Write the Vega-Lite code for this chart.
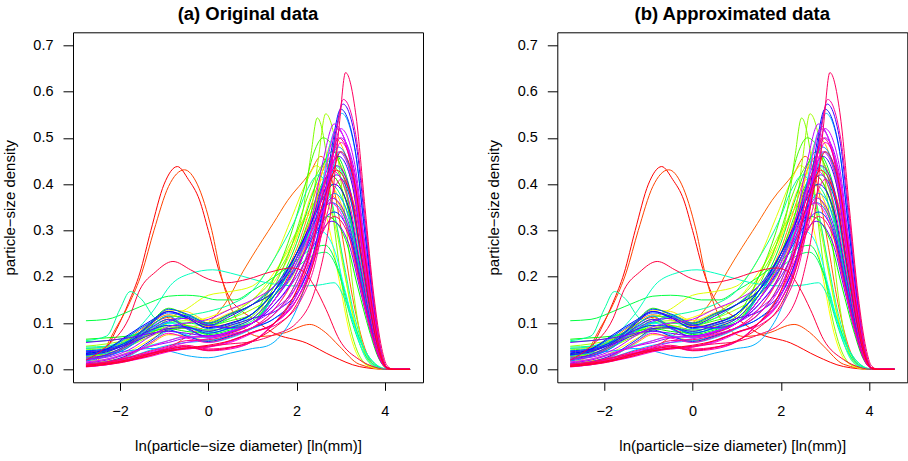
{
"$schema": "https://vega.github.io/schema/vega-lite/v6.json",
"autosize": {"type": "none"},
"padding": {"left": 73, "top": 32.3, "right": 835, "bottom": 429},
"background": "white",
"config": {
  "view": {"stroke": "black", "strokeWidth": 1},
  "font": "Liberation Sans",
  "axis": {"labelFont": "Liberation Sans", "titleFont": "Liberation Sans", "labelColor": "black", "titleColor": "black", "tickColor": "black", "tickWidth": 1, "domain": false, "grid": false, "titleFontWeight": "normal", "labelFlush": false, "labelOverlap": false},
  "title": {"font": "Liberation Sans", "fontSize": 18.5, "fontWeight": "bold", "color": "black"}
},
"datasets": {"curves": [
{"c":0,"x":-2.77,"y":0.006},{"c":0,"x":-2.4,"y":0.03},{"c":0,"x":-2.08,"y":0.086},{"c":0,"x":-1.8,"y":0.145},{"c":0,"x":-1.55,"y":0.208},{"c":0,"x":-1.3,"y":0.3},{"c":0,"x":-1.0,"y":0.4},{"c":0,"x":-0.7,"y":0.438},{"c":0,"x":-0.45,"y":0.41},{"c":0,"x":-0.2,"y":0.366},{"c":0,"x":0,"y":0.3},{"c":0,"x":0.26,"y":0.208},{"c":0,"x":0.48,"y":0.155},{"c":0,"x":0.72,"y":0.129},{"c":0,"x":1.0,"y":0.11},{"c":0,"x":1.47,"y":0.079},{"c":0,"x":2.22,"y":0.057},{"c":0,"x":2.82,"y":0.028},{"c":0,"x":3.42,"y":0.006},{"c":0,"x":4.05,"y":0},{"c":0,"x":4.57,"y":0},
{"c":1,"x":-2.77,"y":0.022},{"c":1,"x":-2.3,"y":0.03},{"c":1,"x":-1.8,"y":0.052},{"c":1,"x":-1.3,"y":0.095},{"c":1,"x":-0.9,"y":0.112},{"c":1,"x":-0.5,"y":0.092},{"c":1,"x":0,"y":0.068},{"c":1,"x":0.5,"y":0.078},{"c":1,"x":1,"y":0.1},{"c":1,"x":1.5,"y":0.15},{"c":1,"x":2.0,"y":0.24},{"c":1,"x":2.35,"y":0.33},{"c":1,"x":2.55,"y":0.39},{"c":1,"x":2.75,"y":0.42},{"c":1,"x":3.14,"y":0.357},{"c":1,"x":3.4,"y":0.231},{"c":1,"x":3.66,"y":0.105},{"c":1,"x":3.86,"y":0.034},{"c":1,"x":4.05,"y":0.003},{"c":1,"x":4.2,"y":0},{"c":1,"x":4.57,"y":0},
{"c":2,"x":-2.77,"y":0.008},{"c":2,"x":-2.4,"y":0.035},{"c":2,"x":-2.15,"y":0.079},{"c":2,"x":-1.8,"y":0.14},{"c":2,"x":-1.5,"y":0.21},{"c":2,"x":-1.23,"y":0.3},{"c":2,"x":-0.9,"y":0.395},{"c":2,"x":-0.54,"y":0.431},{"c":2,"x":-0.25,"y":0.4},{"c":2,"x":0.08,"y":0.3},{"c":2,"x":0.3,"y":0.2},{"c":2,"x":0.55,"y":0.125},{"c":2,"x":0.85,"y":0.085},{"c":2,"x":1.17,"y":0.071},{"c":2,"x":1.7,"y":0.078},{"c":2,"x":2.3,"y":0.097},{"c":2,"x":2.65,"y":0.08},{"c":2,"x":2.97,"y":0.05},{"c":2,"x":3.42,"y":0.011},{"c":2,"x":4.05,"y":0},{"c":2,"x":4.57,"y":0},
{"c":3,"x":-2.77,"y":0.01},{"c":3,"x":-2.3,"y":0.015},{"c":3,"x":-1.8,"y":0.02},{"c":3,"x":-1.3,"y":0.03},{"c":3,"x":-0.9,"y":0.045},{"c":3,"x":-0.5,"y":0.07},{"c":3,"x":0,"y":0.1},{"c":3,"x":0.5,"y":0.16},{"c":3,"x":0.72,"y":0.2},{"c":3,"x":1.0,"y":0.245},{"c":3,"x":1.47,"y":0.315},{"c":3,"x":1.8,"y":0.365},{"c":3,"x":2.3,"y":0.424},{"c":3,"x":2.55,"y":0.46},{"c":3,"x":2.8,"y":0.41},{"c":3,"x":3.05,"y":0.28},{"c":3,"x":3.3,"y":0.14},{"c":3,"x":3.55,"y":0.045},{"c":3,"x":3.8,"y":0.006},{"c":3,"x":4.05,"y":0},{"c":3,"x":4.57,"y":0},
{"c":4,"x":-2.77,"y":0.032},{"c":4,"x":-2.3,"y":0.04},{"c":4,"x":-1.8,"y":0.068},{"c":4,"x":-1.3,"y":0.1},{"c":4,"x":-0.9,"y":0.118},{"c":4,"x":-0.5,"y":0.108},{"c":4,"x":0,"y":0.092},{"c":4,"x":0.5,"y":0.1},{"c":4,"x":1,"y":0.12},{"c":4,"x":1.5,"y":0.17},{"c":4,"x":2.0,"y":0.26},{"c":4,"x":2.35,"y":0.36},{"c":4,"x":2.6,"y":0.43},{"c":4,"x":2.8,"y":0.46},{"c":4,"x":3.18,"y":0.391},{"c":4,"x":3.43,"y":0.253},{"c":4,"x":3.68,"y":0.115},{"c":4,"x":3.86,"y":0.037},{"c":4,"x":4.05,"y":0.003},{"c":4,"x":4.2,"y":0},{"c":4,"x":4.57,"y":0},
{"c":5,"x":-2.77,"y":0.045},{"c":5,"x":-2.3,"y":0.048},{"c":5,"x":-1.8,"y":0.06},{"c":5,"x":-1.3,"y":0.075},{"c":5,"x":-0.9,"y":0.088},{"c":5,"x":-0.5,"y":0.095},{"c":5,"x":0,"y":0.085},{"c":5,"x":0.5,"y":0.092},{"c":5,"x":1,"y":0.11},{"c":5,"x":1.5,"y":0.16},{"c":5,"x":2.0,"y":0.25},{"c":5,"x":2.35,"y":0.33},{"c":5,"x":2.7,"y":0.38},{"c":5,"x":3.11,"y":0.323},{"c":5,"x":3.38,"y":0.209},{"c":5,"x":3.65,"y":0.095},{"c":5,"x":3.85,"y":0.03},{"c":5,"x":4.05,"y":0.002},{"c":5,"x":4.2,"y":0},{"c":5,"x":4.57,"y":0},
{"c":6,"x":-2.77,"y":0.012},{"c":6,"x":-2.3,"y":0.018},{"c":6,"x":-1.8,"y":0.03},{"c":6,"x":-1.3,"y":0.055},{"c":6,"x":-0.9,"y":0.075},{"c":6,"x":-0.5,"y":0.072},{"c":6,"x":0,"y":0.062},{"c":6,"x":0.5,"y":0.07},{"c":6,"x":1,"y":0.09},{"c":6,"x":1.5,"y":0.13},{"c":6,"x":2.0,"y":0.21},{"c":6,"x":2.35,"y":0.32},{"c":6,"x":2.62,"y":0.44},{"c":6,"x":2.85,"y":0.5},{"c":6,"x":3.21,"y":0.425},{"c":6,"x":3.45,"y":0.275},{"c":6,"x":3.69,"y":0.125},{"c":6,"x":3.87,"y":0.04},{"c":6,"x":4.05,"y":0.003},{"c":6,"x":4.2,"y":0},{"c":6,"x":4.57,"y":0},
{"c":7,"x":-2.77,"y":0.038},{"c":7,"x":-2.3,"y":0.042},{"c":7,"x":-1.8,"y":0.062},{"c":7,"x":-1.3,"y":0.098},{"c":7,"x":-0.9,"y":0.128},{"c":7,"x":-0.5,"y":0.125},{"c":7,"x":0,"y":0.105},{"c":7,"x":0.5,"y":0.122},{"c":7,"x":1,"y":0.14},{"c":7,"x":1.5,"y":0.19},{"c":7,"x":1.86,"y":0.25},{"c":7,"x":2.14,"y":0.32},{"c":7,"x":2.37,"y":0.385},{"c":7,"x":2.6,"y":0.41},{"c":7,"x":3.04,"y":0.349},{"c":7,"x":3.33,"y":0.226},{"c":7,"x":3.62,"y":0.103},{"c":7,"x":3.83,"y":0.033},{"c":7,"x":4.05,"y":0.002},{"c":7,"x":4.2,"y":0},{"c":7,"x":4.57,"y":0},
{"c":8,"x":-2.77,"y":0.018},{"c":8,"x":-2.3,"y":0.022},{"c":8,"x":-1.8,"y":0.038},{"c":8,"x":-1.3,"y":0.065},{"c":8,"x":-0.9,"y":0.085},{"c":8,"x":-0.5,"y":0.098},{"c":8,"x":0,"y":0.112},{"c":8,"x":0.5,"y":0.13},{"c":8,"x":1,"y":0.15},{"c":8,"x":1.5,"y":0.21},{"c":8,"x":1.9,"y":0.27},{"c":8,"x":2.25,"y":0.33},{"c":8,"x":2.6,"y":0.35},{"c":8,"x":2.75,"y":0.3},{"c":8,"x":2.97,"y":0.19},{"c":8,"x":3.2,"y":0.08},{"c":8,"x":3.45,"y":0.02},{"c":8,"x":3.8,"y":0.002},{"c":8,"x":4.05,"y":0},{"c":8,"x":4.57,"y":0},
{"c":9,"x":-2.77,"y":0.02},{"c":9,"x":-2.3,"y":0.03},{"c":9,"x":-1.8,"y":0.05},{"c":9,"x":-1.3,"y":0.08},{"c":9,"x":-0.9,"y":0.11},{"c":9,"x":-0.5,"y":0.13},{"c":9,"x":0,"y":0.16},{"c":9,"x":0.5,"y":0.168},{"c":9,"x":1,"y":0.18},{"c":9,"x":1.5,"y":0.24},{"c":9,"x":1.9,"y":0.33},{"c":9,"x":2.2,"y":0.4},{"c":9,"x":2.45,"y":0.44},{"c":9,"x":2.7,"y":0.4},{"c":9,"x":2.95,"y":0.29},{"c":9,"x":3.2,"y":0.15},{"c":9,"x":3.45,"y":0.05},{"c":9,"x":3.7,"y":0.01},{"c":9,"x":4.05,"y":0.001},{"c":9,"x":4.2,"y":0},{"c":9,"x":4.57,"y":0},
{"c":10,"x":-2.77,"y":0.028},{"c":10,"x":-2.3,"y":0.032},{"c":10,"x":-1.8,"y":0.05},{"c":10,"x":-1.3,"y":0.078},{"c":10,"x":-0.9,"y":0.1},{"c":10,"x":-0.5,"y":0.118},{"c":10,"x":0,"y":0.1},{"c":10,"x":0.5,"y":0.092},{"c":10,"x":1,"y":0.1},{"c":10,"x":1.5,"y":0.2},{"c":10,"x":1.9,"y":0.28},{"c":10,"x":2.2,"y":0.33},{"c":10,"x":2.55,"y":0.37},{"c":10,"x":2.85,"y":0.32},{"c":10,"x":3.1,"y":0.2},{"c":10,"x":3.35,"y":0.09},{"c":10,"x":3.6,"y":0.025},{"c":10,"x":3.85,"y":0.003},{"c":10,"x":4.05,"y":0},{"c":10,"x":4.57,"y":0},
{"c":11,"x":-2.77,"y":0.05},{"c":11,"x":-2.3,"y":0.055},{"c":11,"x":-1.8,"y":0.065},{"c":11,"x":-1.3,"y":0.085},{"c":11,"x":-0.9,"y":0.1},{"c":11,"x":-0.5,"y":0.105},{"c":11,"x":0,"y":0.1},{"c":11,"x":0.5,"y":0.11},{"c":11,"x":1,"y":0.13},{"c":11,"x":1.5,"y":0.16},{"c":11,"x":2.0,"y":0.22},{"c":11,"x":2.35,"y":0.35},{"c":11,"x":2.5,"y":0.46},{"c":11,"x":2.66,"y":0.552},{"c":11,"x":2.9,"y":0.48},{"c":11,"x":3.1,"y":0.33},{"c":11,"x":3.3,"y":0.16},{"c":11,"x":3.5,"y":0.05},{"c":11,"x":3.75,"y":0.006},{"c":11,"x":4.05,"y":0},{"c":11,"x":4.57,"y":0},
{"c":12,"x":-2.77,"y":0.03},{"c":12,"x":-2.3,"y":0.035},{"c":12,"x":-1.8,"y":0.05},{"c":12,"x":-1.3,"y":0.072},{"c":12,"x":-0.9,"y":0.085},{"c":12,"x":-0.5,"y":0.09},{"c":12,"x":0,"y":0.1},{"c":12,"x":0.5,"y":0.12},{"c":12,"x":1,"y":0.15},{"c":12,"x":1.5,"y":0.2},{"c":12,"x":1.9,"y":0.27},{"c":12,"x":2.15,"y":0.345},{"c":12,"x":2.32,"y":0.46},{"c":12,"x":2.47,"y":0.543},{"c":12,"x":2.65,"y":0.48},{"c":12,"x":2.81,"y":0.345},{"c":12,"x":3.05,"y":0.17},{"c":12,"x":3.3,"y":0.06},{"c":12,"x":3.6,"y":0.01},{"c":12,"x":4.05,"y":0},{"c":12,"x":4.57,"y":0},
{"c":13,"x":-2.77,"y":0.042},{"c":13,"x":-2.3,"y":0.046},{"c":13,"x":-1.8,"y":0.058},{"c":13,"x":-1.3,"y":0.078},{"c":13,"x":-0.9,"y":0.092},{"c":13,"x":-0.5,"y":0.088},{"c":13,"x":0,"y":0.082},{"c":13,"x":0.5,"y":0.095},{"c":13,"x":1,"y":0.115},{"c":13,"x":1.5,"y":0.18},{"c":13,"x":1.9,"y":0.27},{"c":13,"x":2.2,"y":0.36},{"c":13,"x":2.45,"y":0.42},{"c":13,"x":2.7,"y":0.45},{"c":13,"x":3.11,"y":0.383},{"c":13,"x":3.38,"y":0.248},{"c":13,"x":3.65,"y":0.113},{"c":13,"x":3.85,"y":0.036},{"c":13,"x":4.05,"y":0.002},{"c":13,"x":4.2,"y":0},{"c":13,"x":4.57,"y":0},
{"c":14,"x":-2.77,"y":0.028},{"c":14,"x":-2.3,"y":0.036},{"c":14,"x":-1.8,"y":0.065},{"c":14,"x":-1.3,"y":0.095},{"c":14,"x":-0.9,"y":0.115},{"c":14,"x":-0.5,"y":0.112},{"c":14,"x":0,"y":0.095},{"c":14,"x":0.5,"y":0.105},{"c":14,"x":1,"y":0.12},{"c":14,"x":1.5,"y":0.2},{"c":14,"x":1.9,"y":0.3},{"c":14,"x":2.2,"y":0.4},{"c":14,"x":2.4,"y":0.47},{"c":14,"x":2.6,"y":0.5},{"c":14,"x":3.04,"y":0.425},{"c":14,"x":3.33,"y":0.275},{"c":14,"x":3.62,"y":0.125},{"c":14,"x":3.83,"y":0.04},{"c":14,"x":4.05,"y":0.002},{"c":14,"x":4.2,"y":0},{"c":14,"x":4.57,"y":0},
{"c":15,"x":-2.77,"y":0.033},{"c":15,"x":-2.3,"y":0.04},{"c":15,"x":-1.8,"y":0.058},{"c":15,"x":-1.3,"y":0.102},{"c":15,"x":-0.9,"y":0.132},{"c":15,"x":-0.5,"y":0.118},{"c":15,"x":0,"y":0.098},{"c":15,"x":0.5,"y":0.118},{"c":15,"x":1,"y":0.14},{"c":15,"x":1.5,"y":0.17},{"c":15,"x":2.0,"y":0.25},{"c":15,"x":2.3,"y":0.33},{"c":15,"x":2.52,"y":0.39},{"c":15,"x":2.75,"y":0.42},{"c":15,"x":3.14,"y":0.357},{"c":15,"x":3.4,"y":0.231},{"c":15,"x":3.66,"y":0.105},{"c":15,"x":3.86,"y":0.034},{"c":15,"x":4.05,"y":0.003},{"c":15,"x":4.2,"y":0},{"c":15,"x":4.57,"y":0},
{"c":16,"x":-2.77,"y":0.065},{"c":16,"x":-2.3,"y":0.068},{"c":16,"x":-1.8,"y":0.072},{"c":16,"x":-1.3,"y":0.082},{"c":16,"x":-0.9,"y":0.088},{"c":16,"x":-0.5,"y":0.082},{"c":16,"x":0,"y":0.078},{"c":16,"x":0.5,"y":0.088},{"c":16,"x":1,"y":0.1},{"c":16,"x":1.5,"y":0.16},{"c":16,"x":2.0,"y":0.24},{"c":16,"x":2.35,"y":0.3},{"c":16,"x":2.7,"y":0.33},{"c":16,"x":3.11,"y":0.28},{"c":16,"x":3.38,"y":0.18},{"c":16,"x":3.65,"y":0.083},{"c":16,"x":3.85,"y":0.026},{"c":16,"x":4.05,"y":0.002},{"c":16,"x":4.2,"y":0},{"c":16,"x":4.57,"y":0},
{"c":17,"x":-2.77,"y":0.024},{"c":17,"x":-2.3,"y":0.032},{"c":17,"x":-1.8,"y":0.055},{"c":17,"x":-1.3,"y":0.088},{"c":17,"x":-0.9,"y":0.108},{"c":17,"x":-0.5,"y":0.095},{"c":17,"x":0,"y":0.075},{"c":17,"x":0.5,"y":0.085},{"c":17,"x":1,"y":0.1},{"c":17,"x":1.5,"y":0.17},{"c":17,"x":1.95,"y":0.26},{"c":17,"x":2.3,"y":0.36},{"c":17,"x":2.55,"y":0.43},{"c":17,"x":2.8,"y":0.47},{"c":17,"x":3.18,"y":0.4},{"c":17,"x":3.43,"y":0.259},{"c":17,"x":3.68,"y":0.118},{"c":17,"x":3.86,"y":0.038},{"c":17,"x":4.05,"y":0.003},{"c":17,"x":4.2,"y":0},{"c":17,"x":4.57,"y":0},
{"c":18,"x":-2.77,"y":0.105},{"c":18,"x":-2.3,"y":0.108},{"c":18,"x":-1.8,"y":0.125},{"c":18,"x":-1.3,"y":0.145},{"c":18,"x":-0.9,"y":0.158},{"c":18,"x":-0.5,"y":0.16},{"c":18,"x":-0.2,"y":0.158},{"c":18,"x":0.2,"y":0.15},{"c":18,"x":0.6,"y":0.15},{"c":18,"x":1.0,"y":0.17},{"c":18,"x":1.5,"y":0.2},{"c":18,"x":2.0,"y":0.235},{"c":18,"x":2.3,"y":0.258},{"c":18,"x":2.65,"y":0.268},{"c":18,"x":3.0,"y":0.2},{"c":18,"x":3.2,"y":0.13},{"c":18,"x":3.5,"y":0.05},{"c":18,"x":3.8,"y":0.01},{"c":18,"x":4.05,"y":0},{"c":18,"x":4.57,"y":0},
{"c":19,"x":-2.77,"y":0.06},{"c":19,"x":-2.3,"y":0.062},{"c":19,"x":-1.8,"y":0.07},{"c":19,"x":-1.3,"y":0.09},{"c":19,"x":-0.9,"y":0.1},{"c":19,"x":-0.5,"y":0.1},{"c":19,"x":0,"y":0.095},{"c":19,"x":0.5,"y":0.11},{"c":19,"x":1,"y":0.14},{"c":19,"x":1.5,"y":0.18},{"c":19,"x":2.0,"y":0.22},{"c":19,"x":2.35,"y":0.245},{"c":19,"x":2.65,"y":0.253},{"c":19,"x":2.95,"y":0.21},{"c":19,"x":3.2,"y":0.12},{"c":19,"x":3.5,"y":0.04},{"c":19,"x":3.8,"y":0.008},{"c":19,"x":4.05,"y":0},{"c":19,"x":4.57,"y":0},
{"c":20,"x":-2.77,"y":0.048},{"c":20,"x":-2.3,"y":0.05},{"c":20,"x":-1.8,"y":0.062},{"c":20,"x":-1.3,"y":0.082},{"c":20,"x":-0.9,"y":0.095},{"c":20,"x":-0.5,"y":0.092},{"c":20,"x":0,"y":0.085},{"c":20,"x":0.5,"y":0.09},{"c":20,"x":1,"y":0.105},{"c":20,"x":1.5,"y":0.16},{"c":20,"x":2.0,"y":0.24},{"c":20,"x":2.3,"y":0.31},{"c":20,"x":2.52,"y":0.36},{"c":20,"x":2.75,"y":0.4},{"c":20,"x":3.14,"y":0.34},{"c":20,"x":3.4,"y":0.22},{"c":20,"x":3.66,"y":0.1},{"c":20,"x":3.86,"y":0.032},{"c":20,"x":4.05,"y":0.002},{"c":20,"x":4.2,"y":0},{"c":20,"x":4.57,"y":0},
{"c":21,"x":-2.77,"y":0.062},{"c":21,"x":-2.3,"y":0.072},{"c":21,"x":-2.0,"y":0.13},{"c":21,"x":-1.77,"y":0.168},{"c":21,"x":-1.5,"y":0.15},{"c":21,"x":-1.2,"y":0.11},{"c":21,"x":-0.9,"y":0.1},{"c":21,"x":-0.5,"y":0.115},{"c":21,"x":0,"y":0.125},{"c":21,"x":0.5,"y":0.14},{"c":21,"x":1,"y":0.17},{"c":21,"x":1.5,"y":0.24},{"c":21,"x":2.0,"y":0.33},{"c":21,"x":2.25,"y":0.39},{"c":21,"x":2.5,"y":0.42},{"c":21,"x":2.8,"y":0.36},{"c":21,"x":3.05,"y":0.24},{"c":21,"x":3.3,"y":0.12},{"c":21,"x":3.55,"y":0.04},{"c":21,"x":3.8,"y":0.006},{"c":21,"x":4.05,"y":0},{"c":21,"x":4.57,"y":0},
{"c":22,"x":-2.77,"y":0.045},{"c":22,"x":-2.3,"y":0.05},{"c":22,"x":-1.8,"y":0.07},{"c":22,"x":-1.3,"y":0.12},{"c":22,"x":-0.8,"y":0.187},{"c":22,"x":-0.4,"y":0.207},{"c":22,"x":0.1,"y":0.215},{"c":22,"x":0.5,"y":0.208},{"c":22,"x":1.0,"y":0.195},{"c":22,"x":1.32,"y":0.187},{"c":22,"x":2.07,"y":0.18},{"c":22,"x":2.5,"y":0.182},{"c":22,"x":2.85,"y":0.187},{"c":22,"x":3.1,"y":0.15},{"c":22,"x":3.4,"y":0.07},{"c":22,"x":3.7,"y":0.02},{"c":22,"x":4.05,"y":0.001},{"c":22,"x":4.57,"y":0},
{"c":23,"x":-2.77,"y":0.016},{"c":23,"x":-2.3,"y":0.022},{"c":23,"x":-1.8,"y":0.036},{"c":23,"x":-1.3,"y":0.052},{"c":23,"x":-0.9,"y":0.062},{"c":23,"x":-0.5,"y":0.072},{"c":23,"x":0,"y":0.068},{"c":23,"x":0.5,"y":0.082},{"c":23,"x":1,"y":0.1},{"c":23,"x":1.5,"y":0.15},{"c":23,"x":2.0,"y":0.23},{"c":23,"x":2.35,"y":0.31},{"c":23,"x":2.6,"y":0.39},{"c":23,"x":2.85,"y":0.44},{"c":23,"x":3.21,"y":0.374},{"c":23,"x":3.45,"y":0.242},{"c":23,"x":3.69,"y":0.11},{"c":23,"x":3.87,"y":0.035},{"c":23,"x":4.05,"y":0.003},{"c":23,"x":4.2,"y":0},{"c":23,"x":4.57,"y":0},
{"c":24,"x":-2.77,"y":0.04},{"c":24,"x":-2.3,"y":0.045},{"c":24,"x":-1.8,"y":0.06},{"c":24,"x":-1.3,"y":0.09},{"c":24,"x":-0.9,"y":0.1},{"c":24,"x":-0.5,"y":0.09},{"c":24,"x":0,"y":0.08},{"c":24,"x":0.5,"y":0.09},{"c":24,"x":1,"y":0.12},{"c":24,"x":1.5,"y":0.17},{"c":24,"x":2.0,"y":0.24},{"c":24,"x":2.3,"y":0.28},{"c":24,"x":2.55,"y":0.298},{"c":24,"x":2.85,"y":0.26},{"c":24,"x":3.1,"y":0.17},{"c":24,"x":3.35,"y":0.08},{"c":24,"x":3.6,"y":0.02},{"c":24,"x":3.9,"y":0.002},{"c":24,"x":4.05,"y":0},{"c":24,"x":4.57,"y":0},
{"c":25,"x":-2.77,"y":0.009},{"c":25,"x":-2.3,"y":0.014},{"c":25,"x":-1.8,"y":0.028},{"c":25,"x":-1.3,"y":0.058},{"c":25,"x":-0.9,"y":0.082},{"c":25,"x":-0.5,"y":0.075},{"c":25,"x":0,"y":0.058},{"c":25,"x":0.5,"y":0.068},{"c":25,"x":1,"y":0.088},{"c":25,"x":1.5,"y":0.12},{"c":25,"x":2.0,"y":0.19},{"c":25,"x":2.3,"y":0.27},{"c":25,"x":2.55,"y":0.38},{"c":25,"x":2.72,"y":0.47},{"c":25,"x":2.9,"y":0.52},{"c":25,"x":3.25,"y":0.442},{"c":25,"x":3.48,"y":0.286},{"c":25,"x":3.71,"y":0.13},{"c":25,"x":3.88,"y":0.042},{"c":25,"x":4.05,"y":0.003},{"c":25,"x":4.2,"y":0},{"c":25,"x":4.57,"y":0},
{"c":26,"x":-2.77,"y":0.012},{"c":26,"x":-2.3,"y":0.016},{"c":26,"x":-1.8,"y":0.026},{"c":26,"x":-1.3,"y":0.042},{"c":26,"x":-0.9,"y":0.052},{"c":26,"x":-0.5,"y":0.058},{"c":26,"x":0,"y":0.062},{"c":26,"x":0.5,"y":0.072},{"c":26,"x":1,"y":0.088},{"c":26,"x":1.5,"y":0.11},{"c":26,"x":2.0,"y":0.15},{"c":26,"x":2.35,"y":0.23},{"c":26,"x":2.6,"y":0.33},{"c":26,"x":2.82,"y":0.47},{"c":26,"x":3.02,"y":0.553},{"c":26,"x":3.33,"y":0.47},{"c":26,"x":3.54,"y":0.304},{"c":26,"x":3.74,"y":0.138},{"c":26,"x":3.9,"y":0.044},{"c":26,"x":4.05,"y":0.004},{"c":26,"x":4.2,"y":0},{"c":26,"x":4.57,"y":0},
{"c":26.5,"x":-2.77,"y":0.03},{"c":26.5,"x":-2.3,"y":0.035},{"c":26.5,"x":-1.8,"y":0.04},{"c":26.5,"x":-1.3,"y":0.045},{"c":26.5,"x":-0.9,"y":0.04},{"c":26.5,"x":-0.5,"y":0.03},{"c":26.5,"x":0,"y":0.025},{"c":26.5,"x":0.5,"y":0.035},{"c":26.5,"x":1,"y":0.045},{"c":26.5,"x":1.32,"y":0.05},{"c":26.5,"x":1.7,"y":0.08},{"c":26.5,"x":2.0,"y":0.13},{"c":26.5,"x":2.4,"y":0.25},{"c":26.5,"x":2.7,"y":0.38},{"c":26.5,"x":2.98,"y":0.47},{"c":26.5,"x":3.3,"y":0.4},{"c":26.5,"x":3.52,"y":0.26},{"c":26.5,"x":3.73,"y":0.118},{"c":26.5,"x":3.89,"y":0.038},{"c":26.5,"x":4.05,"y":0.003},{"c":26.5,"x":4.2,"y":0},{"c":26.5,"x":4.57,"y":0},
{"c":27,"x":-2.77,"y":0.022},{"c":27,"x":-2.3,"y":0.028},{"c":27,"x":-1.8,"y":0.048},{"c":27,"x":-1.3,"y":0.082},{"c":27,"x":-0.9,"y":0.102},{"c":27,"x":-0.5,"y":0.115},{"c":27,"x":0,"y":0.098},{"c":27,"x":0.5,"y":0.088},{"c":27,"x":1,"y":0.1},{"c":27,"x":1.5,"y":0.16},{"c":27,"x":2.0,"y":0.24},{"c":27,"x":2.35,"y":0.31},{"c":27,"x":2.6,"y":0.35},{"c":27,"x":2.85,"y":0.38},{"c":27,"x":3.21,"y":0.323},{"c":27,"x":3.45,"y":0.209},{"c":27,"x":3.69,"y":0.095},{"c":27,"x":3.87,"y":0.03},{"c":27,"x":4.05,"y":0.002},{"c":27,"x":4.2,"y":0},{"c":27,"x":4.57,"y":0},
{"c":28,"x":-2.77,"y":0.018},{"c":28,"x":-2.3,"y":0.028},{"c":28,"x":-1.8,"y":0.048},{"c":28,"x":-1.3,"y":0.092},{"c":28,"x":-0.9,"y":0.115},{"c":28,"x":-0.5,"y":0.088},{"c":28,"x":0,"y":0.072},{"c":28,"x":0.5,"y":0.082},{"c":28,"x":1,"y":0.1},{"c":28,"x":1.5,"y":0.15},{"c":28,"x":2.0,"y":0.23},{"c":28,"x":2.35,"y":0.32},{"c":28,"x":2.65,"y":0.42},{"c":28,"x":2.95,"y":0.48},{"c":28,"x":3.28,"y":0.408},{"c":28,"x":3.5,"y":0.264},{"c":28,"x":3.72,"y":0.12},{"c":28,"x":3.89,"y":0.038},{"c":28,"x":4.05,"y":0.003},{"c":28,"x":4.2,"y":0},{"c":28,"x":4.57,"y":0},
{"c":29,"x":-2.77,"y":0.03},{"c":29,"x":-2.3,"y":0.042},{"c":29,"x":-1.8,"y":0.072},{"c":29,"x":-1.3,"y":0.102},{"c":29,"x":-0.9,"y":0.122},{"c":29,"x":-0.5,"y":0.112},{"c":29,"x":0,"y":0.088},{"c":29,"x":0.5,"y":0.098},{"c":29,"x":1,"y":0.12},{"c":29,"x":1.5,"y":0.17},{"c":29,"x":2.0,"y":0.25},{"c":29,"x":2.35,"y":0.31},{"c":29,"x":2.8,"y":0.36},{"c":29,"x":3.18,"y":0.306},{"c":29,"x":3.43,"y":0.198},{"c":29,"x":3.68,"y":0.09},{"c":29,"x":3.86,"y":0.029},{"c":29,"x":4.05,"y":0.002},{"c":29,"x":4.2,"y":0},{"c":29,"x":4.57,"y":0},
{"c":30,"x":-2.77,"y":0.036},{"c":30,"x":-2.3,"y":0.04},{"c":30,"x":-1.8,"y":0.062},{"c":30,"x":-1.3,"y":0.1},{"c":30,"x":-0.9,"y":0.13},{"c":30,"x":-0.5,"y":0.12},{"c":30,"x":0,"y":0.1},{"c":30,"x":0.5,"y":0.12},{"c":30,"x":1,"y":0.14},{"c":30,"x":1.5,"y":0.18},{"c":30,"x":2.0,"y":0.25},{"c":30,"x":2.35,"y":0.32},{"c":30,"x":2.65,"y":0.39},{"c":30,"x":2.9,"y":0.42},{"c":30,"x":3.25,"y":0.357},{"c":30,"x":3.48,"y":0.231},{"c":30,"x":3.71,"y":0.105},{"c":30,"x":3.88,"y":0.034},{"c":30,"x":4.05,"y":0.003},{"c":30,"x":4.2,"y":0},{"c":30,"x":4.57,"y":0},
{"c":30.5,"x":-2.77,"y":0.04},{"c":30.5,"x":-2.3,"y":0.044},{"c":30.5,"x":-1.8,"y":0.06},{"c":30.5,"x":-1.3,"y":0.085},{"c":30.5,"x":-0.9,"y":0.095},{"c":30.5,"x":-0.5,"y":0.092},{"c":30.5,"x":0,"y":0.078},{"c":30.5,"x":0.5,"y":0.09},{"c":30.5,"x":1,"y":0.11},{"c":30.5,"x":1.5,"y":0.16},{"c":30.5,"x":2.0,"y":0.22},{"c":30.5,"x":2.4,"y":0.29},{"c":30.5,"x":2.85,"y":0.34},{"c":30.5,"x":3.21,"y":0.289},{"c":30.5,"x":3.45,"y":0.187},{"c":30.5,"x":3.69,"y":0.085},{"c":30.5,"x":3.87,"y":0.027},{"c":30.5,"x":4.05,"y":0.002},{"c":30.5,"x":4.2,"y":0},{"c":30.5,"x":4.57,"y":0},
{"c":31,"x":-2.77,"y":0.011},{"c":31,"x":-2.3,"y":0.016},{"c":31,"x":-1.8,"y":0.032},{"c":31,"x":-1.3,"y":0.062},{"c":31,"x":-0.9,"y":0.085},{"c":31,"x":-0.5,"y":0.072},{"c":31,"x":0,"y":0.06},{"c":31,"x":0.5,"y":0.072},{"c":31,"x":1,"y":0.09},{"c":31,"x":1.5,"y":0.11},{"c":31,"x":2.0,"y":0.16},{"c":31,"x":2.35,"y":0.24},{"c":31,"x":2.6,"y":0.35},{"c":31,"x":2.8,"y":0.48},{"c":31,"x":3.0,"y":0.562},{"c":31,"x":3.32,"y":0.478},{"c":31,"x":3.53,"y":0.309},{"c":31,"x":3.74,"y":0.141},{"c":31,"x":3.89,"y":0.045},{"c":31,"x":4.05,"y":0.004},{"c":31,"x":4.2,"y":0},{"c":31,"x":4.57,"y":0},
{"c":32,"x":-2.77,"y":0.034},{"c":32,"x":-2.3,"y":0.044},{"c":32,"x":-1.8,"y":0.075},{"c":32,"x":-1.3,"y":0.105},{"c":32,"x":-0.9,"y":0.125},{"c":32,"x":-0.5,"y":0.112},{"c":32,"x":0,"y":0.09},{"c":32,"x":0.5,"y":0.1},{"c":32,"x":1,"y":0.12},{"c":32,"x":1.5,"y":0.17},{"c":32,"x":2.0,"y":0.25},{"c":32,"x":2.35,"y":0.32},{"c":32,"x":2.6,"y":0.37},{"c":32,"x":2.85,"y":0.4},{"c":32,"x":3.21,"y":0.34},{"c":32,"x":3.45,"y":0.22},{"c":32,"x":3.69,"y":0.1},{"c":32,"x":3.87,"y":0.032},{"c":32,"x":4.05,"y":0.002},{"c":32,"x":4.2,"y":0},{"c":32,"x":4.57,"y":0},
{"c":33,"x":-2.77,"y":0.032},{"c":33,"x":-2.3,"y":0.038},{"c":33,"x":-1.8,"y":0.058},{"c":33,"x":-1.3,"y":0.098},{"c":33,"x":-0.9,"y":0.125},{"c":33,"x":-0.5,"y":0.115},{"c":33,"x":0,"y":0.095},{"c":33,"x":0.5,"y":0.115},{"c":33,"x":1,"y":0.14},{"c":33,"x":1.5,"y":0.17},{"c":33,"x":2.0,"y":0.24},{"c":33,"x":2.35,"y":0.32},{"c":33,"x":2.65,"y":0.41},{"c":33,"x":2.95,"y":0.46},{"c":33,"x":3.28,"y":0.391},{"c":33,"x":3.5,"y":0.253},{"c":33,"x":3.72,"y":0.115},{"c":33,"x":3.89,"y":0.037},{"c":33,"x":4.05,"y":0.003},{"c":33,"x":4.2,"y":0},{"c":33,"x":4.57,"y":0},
{"c":34,"x":-2.77,"y":0.038},{"c":34,"x":-2.3,"y":0.042},{"c":34,"x":-1.8,"y":0.055},{"c":34,"x":-1.3,"y":0.075},{"c":34,"x":-0.9,"y":0.088},{"c":34,"x":-0.5,"y":0.09},{"c":34,"x":0,"y":0.082},{"c":34,"x":0.5,"y":0.095},{"c":34,"x":1,"y":0.11},{"c":34,"x":1.6,"y":0.13},{"c":34,"x":2.1,"y":0.18},{"c":34,"x":2.45,"y":0.27},{"c":34,"x":2.7,"y":0.39},{"c":34,"x":2.88,"y":0.51},{"c":34,"x":3.05,"y":0.573},{"c":34,"x":3.35,"y":0.487},{"c":34,"x":3.55,"y":0.315},{"c":34,"x":3.75,"y":0.143},{"c":34,"x":3.9,"y":0.046},{"c":34,"x":4.05,"y":0.004},{"c":34,"x":4.2,"y":0},{"c":34,"x":4.57,"y":0},
{"c":35,"x":-2.77,"y":0.02},{"c":35,"x":-2.3,"y":0.032},{"c":35,"x":-1.8,"y":0.055},{"c":35,"x":-1.3,"y":0.09},{"c":35,"x":-0.9,"y":0.108},{"c":35,"x":-0.5,"y":0.09},{"c":35,"x":0,"y":0.07},{"c":35,"x":0.5,"y":0.08},{"c":35,"x":1,"y":0.1},{"c":35,"x":1.5,"y":0.14},{"c":35,"x":2.0,"y":0.21},{"c":35,"x":2.35,"y":0.3},{"c":35,"x":2.65,"y":0.39},{"c":35,"x":2.9,"y":0.44},{"c":35,"x":3.25,"y":0.374},{"c":35,"x":3.48,"y":0.242},{"c":35,"x":3.71,"y":0.11},{"c":35,"x":3.88,"y":0.035},{"c":35,"x":4.05,"y":0.003},{"c":35,"x":4.2,"y":0},{"c":35,"x":4.57,"y":0},
{"c":35.5,"x":-2.77,"y":0.058},{"c":35.5,"x":-2.3,"y":0.062},{"c":35.5,"x":-1.8,"y":0.068},{"c":35.5,"x":-1.3,"y":0.078},{"c":35.5,"x":-0.9,"y":0.082},{"c":35.5,"x":-0.5,"y":0.078},{"c":35.5,"x":0,"y":0.072},{"c":35.5,"x":0.5,"y":0.082},{"c":35.5,"x":1,"y":0.1},{"c":35.5,"x":1.5,"y":0.14},{"c":35.5,"x":2.0,"y":0.2},{"c":35.5,"x":2.4,"y":0.27},{"c":35.5,"x":2.8,"y":0.32},{"c":35.5,"x":3.18,"y":0.272},{"c":35.5,"x":3.43,"y":0.176},{"c":35.5,"x":3.68,"y":0.08},{"c":35.5,"x":3.86,"y":0.026},{"c":35.5,"x":4.05,"y":0.002},{"c":35.5,"x":4.2,"y":0},{"c":35.5,"x":4.57,"y":0},
{"c":36,"x":-2.77,"y":0.026},{"c":36,"x":-2.3,"y":0.03},{"c":36,"x":-1.8,"y":0.052},{"c":36,"x":-1.3,"y":0.085},{"c":36,"x":-0.9,"y":0.105},{"c":36,"x":-0.5,"y":0.11},{"c":36,"x":0,"y":0.095},{"c":36,"x":0.5,"y":0.09},{"c":36,"x":1,"y":0.1},{"c":36,"x":1.5,"y":0.15},{"c":36,"x":2.0,"y":0.22},{"c":36,"x":2.35,"y":0.29},{"c":36,"x":2.55,"y":0.33},{"c":36,"x":2.8,"y":0.37},{"c":36,"x":3.18,"y":0.315},{"c":36,"x":3.43,"y":0.204},{"c":36,"x":3.68,"y":0.093},{"c":36,"x":3.86,"y":0.03},{"c":36,"x":4.05,"y":0.002},{"c":36,"x":4.2,"y":0},{"c":36,"x":4.57,"y":0},
{"c":37,"x":-2.77,"y":0.014},{"c":37,"x":-2.3,"y":0.02},{"c":37,"x":-1.8,"y":0.034},{"c":37,"x":-1.3,"y":0.05},{"c":37,"x":-0.9,"y":0.058},{"c":37,"x":-0.5,"y":0.068},{"c":37,"x":0,"y":0.072},{"c":37,"x":0.5,"y":0.08},{"c":37,"x":1,"y":0.1},{"c":37,"x":1.5,"y":0.13},{"c":37,"x":2.0,"y":0.18},{"c":37,"x":2.35,"y":0.26},{"c":37,"x":2.65,"y":0.38},{"c":37,"x":2.82,"y":0.46},{"c":37,"x":3.0,"y":0.5},{"c":37,"x":3.32,"y":0.425},{"c":37,"x":3.53,"y":0.275},{"c":37,"x":3.74,"y":0.125},{"c":37,"x":3.89,"y":0.04},{"c":37,"x":4.05,"y":0.003},{"c":37,"x":4.2,"y":0},{"c":37,"x":4.57,"y":0},
{"c":38,"x":-2.77,"y":0.022},{"c":38,"x":-2.3,"y":0.026},{"c":38,"x":-1.8,"y":0.042},{"c":38,"x":-1.3,"y":0.072},{"c":38,"x":-0.9,"y":0.092},{"c":38,"x":-0.5,"y":0.1},{"c":38,"x":0,"y":0.108},{"c":38,"x":0.5,"y":0.13},{"c":38,"x":1,"y":0.15},{"c":38,"x":1.5,"y":0.18},{"c":38,"x":2.0,"y":0.24},{"c":38,"x":2.35,"y":0.33},{"c":38,"x":2.6,"y":0.45},{"c":38,"x":2.85,"y":0.53},{"c":38,"x":3.21,"y":0.45},{"c":38,"x":3.45,"y":0.292},{"c":38,"x":3.69,"y":0.133},{"c":38,"x":3.87,"y":0.042},{"c":38,"x":4.05,"y":0.003},{"c":38,"x":4.2,"y":0},{"c":38,"x":4.57,"y":0},
{"c":38.5,"x":-2.77,"y":0.006},{"c":38.5,"x":-2.3,"y":0.01},{"c":38.5,"x":-1.8,"y":0.02},{"c":38.5,"x":-1.3,"y":0.032},{"c":38.5,"x":-0.9,"y":0.042},{"c":38.5,"x":-0.5,"y":0.046},{"c":38.5,"x":0,"y":0.05},{"c":38.5,"x":0.5,"y":0.06},{"c":38.5,"x":1,"y":0.08},{"c":38.5,"x":1.5,"y":0.1},{"c":38.5,"x":2.0,"y":0.15},{"c":38.5,"x":2.35,"y":0.23},{"c":38.5,"x":2.62,"y":0.34},{"c":38.5,"x":2.82,"y":0.46},{"c":38.5,"x":3.0,"y":0.52},{"c":38.5,"x":3.32,"y":0.442},{"c":38.5,"x":3.53,"y":0.286},{"c":38.5,"x":3.74,"y":0.13},{"c":38.5,"x":3.89,"y":0.042},{"c":38.5,"x":4.05,"y":0.003},{"c":38.5,"x":4.2,"y":0},{"c":38.5,"x":4.57,"y":0},
{"c":39,"x":-2.77,"y":0.01},{"c":39,"x":-2.3,"y":0.014},{"c":39,"x":-1.8,"y":0.024},{"c":39,"x":-1.3,"y":0.038},{"c":39,"x":-0.9,"y":0.048},{"c":39,"x":-0.5,"y":0.058},{"c":39,"x":0,"y":0.066},{"c":39,"x":0.5,"y":0.076},{"c":39,"x":1,"y":0.09},{"c":39,"x":1.5,"y":0.12},{"c":39,"x":2.0,"y":0.18},{"c":39,"x":2.35,"y":0.27},{"c":39,"x":2.62,"y":0.37},{"c":39,"x":2.8,"y":0.44},{"c":39,"x":2.95,"y":0.47},{"c":39,"x":3.28,"y":0.4},{"c":39,"x":3.5,"y":0.259},{"c":39,"x":3.72,"y":0.118},{"c":39,"x":3.89,"y":0.038},{"c":39,"x":4.05,"y":0.003},{"c":39,"x":4.2,"y":0},{"c":39,"x":4.57,"y":0},
{"c":40,"x":-2.77,"y":0.008},{"c":40,"x":-2.3,"y":0.012},{"c":40,"x":-1.8,"y":0.02},{"c":40,"x":-1.3,"y":0.035},{"c":40,"x":-0.9,"y":0.045},{"c":40,"x":-0.5,"y":0.05},{"c":40,"x":0,"y":0.042},{"c":40,"x":0.5,"y":0.046},{"c":40,"x":1,"y":0.06},{"c":40,"x":1.5,"y":0.1},{"c":40,"x":2.0,"y":0.16},{"c":40,"x":2.32,"y":0.25},{"c":40,"x":2.56,"y":0.37},{"c":40,"x":2.74,"y":0.47},{"c":40,"x":2.9,"y":0.52},{"c":40,"x":3.25,"y":0.442},{"c":40,"x":3.48,"y":0.286},{"c":40,"x":3.71,"y":0.13},{"c":40,"x":3.88,"y":0.042},{"c":40,"x":4.05,"y":0.003},{"c":40,"x":4.2,"y":0},{"c":40,"x":4.57,"y":0},
{"c":40.5,"x":-2.77,"y":0.016},{"c":40.5,"x":-2.3,"y":0.022},{"c":40.5,"x":-1.8,"y":0.036},{"c":40.5,"x":-1.3,"y":0.05},{"c":40.5,"x":-0.9,"y":0.062},{"c":40.5,"x":-0.5,"y":0.07},{"c":40.5,"x":0,"y":0.07},{"c":40.5,"x":0.5,"y":0.082},{"c":40.5,"x":1,"y":0.1},{"c":40.5,"x":1.5,"y":0.15},{"c":40.5,"x":2.0,"y":0.23},{"c":40.5,"x":2.3,"y":0.29},{"c":40.5,"x":2.52,"y":0.33},{"c":40.5,"x":2.75,"y":0.36},{"c":40.5,"x":3.14,"y":0.306},{"c":40.5,"x":3.4,"y":0.198},{"c":40.5,"x":3.66,"y":0.09},{"c":40.5,"x":3.86,"y":0.029},{"c":40.5,"x":4.05,"y":0.002},{"c":40.5,"x":4.2,"y":0},{"c":40.5,"x":4.57,"y":0},
{"c":41,"x":-2.77,"y":0.005},{"c":41,"x":-2.3,"y":0.01},{"c":41,"x":-1.8,"y":0.018},{"c":41,"x":-1.3,"y":0.028},{"c":41,"x":-0.9,"y":0.038},{"c":41,"x":-0.5,"y":0.044},{"c":41,"x":0,"y":0.048},{"c":41,"x":0.5,"y":0.058},{"c":41,"x":1,"y":0.078},{"c":41,"x":1.5,"y":0.1},{"c":41,"x":2.0,"y":0.15},{"c":41,"x":2.35,"y":0.23},{"c":41,"x":2.62,"y":0.34},{"c":41,"x":2.82,"y":0.44},{"c":41,"x":3.0,"y":0.49},{"c":41,"x":3.32,"y":0.417},{"c":41,"x":3.53,"y":0.27},{"c":41,"x":3.74,"y":0.123},{"c":41,"x":3.89,"y":0.039},{"c":41,"x":4.05,"y":0.003},{"c":41,"x":4.2,"y":0},{"c":41,"x":4.57,"y":0},
{"c":42,"x":-2.77,"y":0.01},{"c":42,"x":-2.3,"y":0.015},{"c":42,"x":-1.8,"y":0.03},{"c":42,"x":-1.3,"y":0.058},{"c":42,"x":-0.9,"y":0.078},{"c":42,"x":-0.5,"y":0.068},{"c":42,"x":0,"y":0.058},{"c":42,"x":0.5,"y":0.07},{"c":42,"x":1,"y":0.09},{"c":42,"x":1.5,"y":0.13},{"c":42,"x":2.0,"y":0.21},{"c":42,"x":2.3,"y":0.29},{"c":42,"x":2.55,"y":0.38},{"c":42,"x":2.8,"y":0.43},{"c":42,"x":3.18,"y":0.366},{"c":42,"x":3.43,"y":0.237},{"c":42,"x":3.68,"y":0.108},{"c":42,"x":3.86,"y":0.034},{"c":42,"x":4.05,"y":0.003},{"c":42,"x":4.2,"y":0},{"c":42,"x":4.57,"y":0},
{"c":42.5,"x":-2.77,"y":0.01},{"c":42.5,"x":-2.3,"y":0.014},{"c":42.5,"x":-1.8,"y":0.022},{"c":42.5,"x":-1.3,"y":0.036},{"c":42.5,"x":-0.9,"y":0.044},{"c":42.5,"x":-0.5,"y":0.048},{"c":42.5,"x":0,"y":0.04},{"c":42.5,"x":0.5,"y":0.044},{"c":42.5,"x":1,"y":0.06},{"c":42.5,"x":1.5,"y":0.1},{"c":42.5,"x":2.0,"y":0.15},{"c":42.5,"x":2.35,"y":0.22},{"c":42.5,"x":2.65,"y":0.32},{"c":42.5,"x":2.82,"y":0.38},{"c":42.5,"x":3.0,"y":0.41},{"c":42.5,"x":3.32,"y":0.349},{"c":42.5,"x":3.53,"y":0.226},{"c":42.5,"x":3.74,"y":0.103},{"c":42.5,"x":3.89,"y":0.033},{"c":42.5,"x":4.05,"y":0.003},{"c":42.5,"x":4.2,"y":0},{"c":42.5,"x":4.57,"y":0},
{"c":43,"x":-2.77,"y":0.007},{"c":43,"x":-2.3,"y":0.012},{"c":43,"x":-1.8,"y":0.022},{"c":43,"x":-1.3,"y":0.032},{"c":43,"x":-0.9,"y":0.04},{"c":43,"x":-0.5,"y":0.044},{"c":43,"x":0,"y":0.048},{"c":43,"x":0.5,"y":0.062},{"c":43,"x":1,"y":0.08},{"c":43,"x":1.6,"y":0.1},{"c":43,"x":2.1,"y":0.15},{"c":43,"x":2.45,"y":0.24},{"c":43,"x":2.7,"y":0.37},{"c":43,"x":2.9,"y":0.51},{"c":43,"x":3.06,"y":0.583},{"c":43,"x":3.36,"y":0.496},{"c":43,"x":3.56,"y":0.321},{"c":43,"x":3.75,"y":0.146},{"c":43,"x":3.9,"y":0.047},{"c":43,"x":4.05,"y":0.004},{"c":43,"x":4.2,"y":0},{"c":43,"x":4.57,"y":0},
{"c":44,"x":-2.77,"y":0.012},{"c":44,"x":-2.3,"y":0.016},{"c":44,"x":-1.8,"y":0.026},{"c":44,"x":-1.3,"y":0.04},{"c":44,"x":-0.9,"y":0.05},{"c":44,"x":-0.5,"y":0.062},{"c":44,"x":0,"y":0.064},{"c":44,"x":0.5,"y":0.074},{"c":44,"x":1,"y":0.09},{"c":44,"x":1.5,"y":0.12},{"c":44,"x":2.0,"y":0.19},{"c":44,"x":2.35,"y":0.28},{"c":44,"x":2.62,"y":0.39},{"c":44,"x":2.8,"y":0.46},{"c":44,"x":2.95,"y":0.5},{"c":44,"x":3.28,"y":0.425},{"c":44,"x":3.5,"y":0.275},{"c":44,"x":3.72,"y":0.125},{"c":44,"x":3.89,"y":0.04},{"c":44,"x":4.05,"y":0.003},{"c":44,"x":4.2,"y":0},{"c":44,"x":4.57,"y":0},
{"c":44.5,"x":-2.77,"y":0.006},{"c":44.5,"x":-2.3,"y":0.01},{"c":44.5,"x":-1.8,"y":0.018},{"c":44.5,"x":-1.3,"y":0.034},{"c":44.5,"x":-0.9,"y":0.046},{"c":44.5,"x":-0.5,"y":0.052},{"c":44.5,"x":0,"y":0.044},{"c":44.5,"x":0.5,"y":0.048},{"c":44.5,"x":1,"y":0.06},{"c":44.5,"x":1.5,"y":0.1},{"c":44.5,"x":1.95,"y":0.16},{"c":44.5,"x":2.3,"y":0.23},{"c":44.5,"x":2.56,"y":0.29},{"c":44.5,"x":2.85,"y":0.33},{"c":44.5,"x":3.21,"y":0.281},{"c":44.5,"x":3.45,"y":0.182},{"c":44.5,"x":3.69,"y":0.083},{"c":44.5,"x":3.87,"y":0.026},{"c":44.5,"x":4.05,"y":0.002},{"c":44.5,"x":4.2,"y":0},{"c":44.5,"x":4.57,"y":0},
{"c":45,"x":-2.77,"y":0.008},{"c":45,"x":-2.3,"y":0.015},{"c":45,"x":-1.8,"y":0.025},{"c":45,"x":-1.3,"y":0.035},{"c":45,"x":-0.9,"y":0.04},{"c":45,"x":-0.5,"y":0.045},{"c":45,"x":0,"y":0.05},{"c":45,"x":0.5,"y":0.055},{"c":45,"x":1,"y":0.06},{"c":45,"x":1.5,"y":0.075},{"c":45,"x":2.0,"y":0.1},{"c":45,"x":2.5,"y":0.2},{"c":45,"x":2.8,"y":0.36},{"c":45,"x":2.97,"y":0.53},{"c":45,"x":3.11,"y":0.641},{"c":45,"x":3.35,"y":0.545},{"c":45,"x":3.55,"y":0.35},{"c":45,"x":3.75,"y":0.16},{"c":45,"x":3.93,"y":0.045},{"c":45,"x":4.05,"y":0.008},{"c":45,"x":4.2,"y":0},{"c":45,"x":4.57,"y":0},
{"c":46,"x":-2.77,"y":0.02},{"c":46,"x":-2.3,"y":0.05},{"c":46,"x":-1.8,"y":0.11},{"c":46,"x":-1.55,"y":0.172},{"c":46,"x":-1.2,"y":0.21},{"c":46,"x":-0.8,"y":0.233},{"c":46,"x":-0.4,"y":0.215},{"c":46,"x":0,"y":0.195},{"c":46,"x":0.41,"y":0.187},{"c":46,"x":0.9,"y":0.195},{"c":46,"x":1.4,"y":0.21},{"c":46,"x":1.9,"y":0.219},{"c":46,"x":2.15,"y":0.212},{"c":46,"x":2.4,"y":0.18},{"c":46,"x":2.67,"y":0.129},{"c":46,"x":2.97,"y":0.064},{"c":46,"x":3.42,"y":0.021},{"c":46,"x":3.8,"y":0.004},{"c":46,"x":4.05,"y":0},{"c":46,"x":4.57,"y":0},
{"c":46.5,"x":-2.77,"y":0.009},{"c":46.5,"x":-2.3,"y":0.013},{"c":46.5,"x":-1.8,"y":0.021},{"c":46.5,"x":-1.3,"y":0.034},{"c":46.5,"x":-0.9,"y":0.043},{"c":46.5,"x":-0.5,"y":0.049},{"c":46.5,"x":0,"y":0.041},{"c":46.5,"x":0.5,"y":0.047},{"c":46.5,"x":1,"y":0.062},{"c":46.5,"x":1.5,"y":0.09},{"c":46.5,"x":2.0,"y":0.14},{"c":46.5,"x":2.35,"y":0.22},{"c":46.5,"x":2.62,"y":0.33},{"c":46.5,"x":2.82,"y":0.42},{"c":46.5,"x":3.0,"y":0.47},{"c":46.5,"x":3.32,"y":0.4},{"c":46.5,"x":3.53,"y":0.259},{"c":46.5,"x":3.74,"y":0.118},{"c":46.5,"x":3.89,"y":0.038},{"c":46.5,"x":4.05,"y":0.003},{"c":46.5,"x":4.2,"y":0},{"c":46.5,"x":4.57,"y":0},
{"c":47,"x":-2.77,"y":0.006},{"c":47,"x":-2.3,"y":0.011},{"c":47,"x":-1.8,"y":0.019},{"c":47,"x":-1.3,"y":0.03},{"c":47,"x":-0.9,"y":0.04},{"c":47,"x":-0.5,"y":0.046},{"c":47,"x":0,"y":0.052},{"c":47,"x":0.5,"y":0.062},{"c":47,"x":1,"y":0.08},{"c":47,"x":1.5,"y":0.1},{"c":47,"x":2.0,"y":0.17},{"c":47,"x":2.3,"y":0.25},{"c":47,"x":2.6,"y":0.36},{"c":47,"x":2.9,"y":0.43},{"c":47,"x":3.25,"y":0.366},{"c":47,"x":3.48,"y":0.237},{"c":47,"x":3.71,"y":0.108},{"c":47,"x":3.88,"y":0.034},{"c":47,"x":4.05,"y":0.003},{"c":47,"x":4.2,"y":0},{"c":47,"x":4.57,"y":0}
]},
"spacing": 134.3,
"bounds": "flush",
"hconcat": [
{
  "width": 350, "height": 350,
  "title": {"text": "(a) Original data", "frame": "group", "anchor": "middle", "baseline": "alphabetic", "offset": 13, "dy": 19},
  "data": {"name": "curves"},
  "mark": {"type": "line", "interpolate": "monotone", "strokeWidth": 1},
  "encoding": {
    "x": {"field": "x", "type": "quantitative", "scale": {"domain": [-3.064, 4.864], "nice": false, "zero": false},
          "axis": {"values": [-2, 0, 2, 4], "format": "d", "tickSize": 8, "labelPadding": 14, "labelFontSize": 14.5, "title": "ln(particle−size diameter) [ln(mm)]", "titleFontSize": 15, "titleBaseline": "alphabetic", "titleX": 175, "titleY": 68.3}},
    "y": {"field": "y", "type": "quantitative", "scale": {"domain": [-0.028, 0.728], "nice": false, "zero": false},
          "axis": {"values": [0, 0.1, 0.2, 0.3, 0.4, 0.5, 0.6, 0.7], "format": ".1f", "tickSize": 10, "labelPadding": 10, "labelFontSize": 14.5, "title": "particle−size density", "titleFontSize": 15, "titleBaseline": "alphabetic", "titleX": -59, "titleY": 175}},
    "color": {"field": "c", "type": "quantitative", "scale": {"domain": [0, 8, 16, 24, 32, 40, 48], "range": ["#ff0000", "#ffff00", "#00ff00", "#00ffff", "#0000ff", "#ff00ff", "#ff0000"], "interpolate": "rgb"}, "legend": null},
    "detail": {"field": "c", "type": "nominal"}
  }
},
{
  "width": 350, "height": 350,
  "title": {"text": "(b) Approximated data", "frame": "group", "anchor": "middle", "baseline": "alphabetic", "offset": 13, "dy": 19},
  "data": {"name": "curves"},
  "mark": {"type": "line", "interpolate": "monotone", "strokeWidth": 1},
  "encoding": {
    "x": {"field": "x", "type": "quantitative", "scale": {"domain": [-3.064, 4.864], "nice": false, "zero": false},
          "axis": {"values": [-2, 0, 2, 4], "format": "d", "tickSize": 8, "labelPadding": 14, "labelFontSize": 14.5, "title": "ln(particle−size diameter) [ln(mm)]", "titleFontSize": 15, "titleBaseline": "alphabetic", "titleX": 175, "titleY": 68.3}},
    "y": {"field": "y", "type": "quantitative", "scale": {"domain": [-0.028, 0.728], "nice": false, "zero": false},
          "axis": {"values": [0, 0.1, 0.2, 0.3, 0.4, 0.5, 0.6, 0.7], "format": ".1f", "tickSize": 10, "labelPadding": 10, "labelFontSize": 14.5, "title": "particle−size density", "titleFontSize": 15, "titleBaseline": "alphabetic", "titleX": -59, "titleY": 175}},
    "color": {"field": "c", "type": "quantitative", "scale": {"domain": [0, 8, 16, 24, 32, 40, 48], "range": ["#ff0000", "#ffff00", "#00ff00", "#00ffff", "#0000ff", "#ff00ff", "#ff0000"], "interpolate": "rgb"}, "legend": null},
    "detail": {"field": "c", "type": "nominal"}
  }
}
]
}
